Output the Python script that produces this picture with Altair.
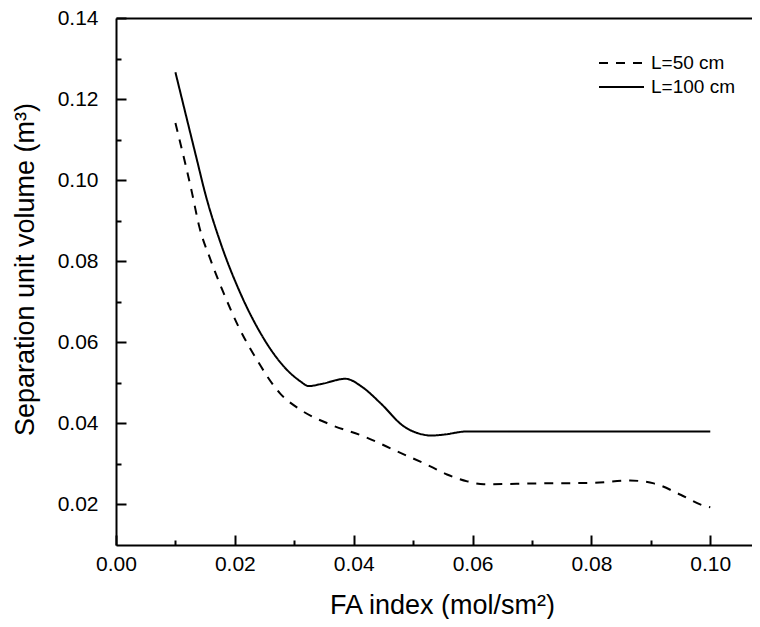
import altair as alt
import pandas as pd

# ---- data ----
series_labels = ["L=50 cm", "L=100 cm"]

x_50 = [0.010, 0.0128, 0.0140, 0.0159, 0.0181, 0.0206, 0.0237, 0.0276, 0.0310,
        0.0361, 0.0417, 0.0473, 0.0529, 0.0557, 0.0591, 0.0619, 0.0714, 0.0798,
        0.0865, 0.0905, 0.0950, 0.0989, 0.100]
y_50 = [0.1141, 0.0968, 0.0886, 0.0804, 0.0722, 0.0639, 0.0557, 0.0474, 0.0434,
        0.0397, 0.0368, 0.0331, 0.0294, 0.0274, 0.0257, 0.0250, 0.0252, 0.0253,
        0.0259, 0.0252, 0.0224, 0.0197, 0.0193]

x_100 = [0.010, 0.0136, 0.0150, 0.0176, 0.0209, 0.0243, 0.0282, 0.0310, 0.0324,
         0.0345, 0.0386, 0.0415, 0.0445, 0.0484, 0.0518, 0.0530, 0.0550, 0.0590,
         0.0650, 0.0700, 0.0800, 0.0900, 0.100]
y_100 = [0.1266, 0.1051, 0.0968, 0.0845, 0.0722, 0.0623, 0.0541, 0.0504, 0.0492,
         0.0497, 0.0510, 0.0489, 0.0450, 0.0393, 0.0372, 0.0370, 0.0372, 0.0380,
         0.0380, 0.0380, 0.0380, 0.0380, 0.0380]

x_major = [0.00, 0.02, 0.04, 0.06, 0.08, 0.10]
x_minor = [0.01, 0.03, 0.05, 0.07, 0.09]
y_major = [0.02, 0.04, 0.06, 0.08, 0.10, 0.12, 0.14]
y_minor = [0.03, 0.05, 0.07, 0.09, 0.11, 0.13]

df = pd.concat([
    pd.DataFrame({"x": x_50, "y": y_50, "series": series_labels[0]}),
    pd.DataFrame({"x": x_100, "y": y_100, "series": series_labels[1]}),
], ignore_index=True)

FONT = "Liberation Sans"
W, H = 636, 527
xscale = alt.Scale(domain=[0, 0.10702], nice=False, zero=False)
yscale = alt.Scale(domain=[0.01, 0.14], nice=False, zero=False)

base = alt.Chart(df)

lines = base.mark_line(strokeWidth=2, color="black", interpolate="monotone").encode(
    x=alt.X("x:Q", scale=xscale,
            axis=alt.Axis(orient="bottom", values=x_major, format=".2f", ticks=False,
                          domainWidth=2, domainColor="black",
                          labelPadding=8.5, labelFontSize=21, labelFont=FONT,
                          labelColor="black", labelFlush=False, labelOverlap=False,
                          title="FA index (mol/sm²)", titleFont=FONT, titleFontSize=27,
                          titleFontWeight="normal", titleColor="black",
                          titleX=326, titleY=68, titleBaseline="alphabetic",
                          titleAlign="center", grid=False)),
    y=alt.Y("y:Q", scale=yscale,
            axis=alt.Axis(orient="left", values=y_major, format=".2f", ticks=False,
                          domainWidth=2, domainColor="black",
                          labelPadding=18, labelFontSize=21, labelFont=FONT,
                          labelColor="black", labelFlush=False, labelOverlap=False,
                          title="Separation unit volume (m³)", titleFont=FONT,
                          titleFontSize=27, titleFontWeight="normal", titleColor="black",
                          titleX=-82.5, titleY=251, titleAngle=-90,
                          titleBaseline="alphabetic", titleAlign="center", grid=False)),
    strokeDash=alt.StrokeDash(
        "series:N",
        scale=alt.Scale(domain=series_labels, range=[[9, 8], [1, 0]]),
        legend=alt.Legend(title=None, orient="none", legendX=482, legendY=35,
                          symbolType="stroke", symbolSize=2025, symbolStrokeWidth=2,
                          symbolStrokeColor="black", labelFont=FONT, labelFontSize=19,
                          labelColor="black", labelOffset=6, clipHeight=20,
                          rowPadding=4, padding=0, offset=0)),
)


def tick_layer(xvals, yvals, size):
    return base.mark_line(opacity=0).encode(
        x=alt.X("x:Q", scale=xscale,
                axis=alt.Axis(orient="top", offset=-H, values=xvals, labels=False,
                              domain=False, tickSize=size, tickWidth=2,
                              tickColor="black", title=None, grid=False)),
        y=alt.Y("y:Q", scale=yscale,
                axis=alt.Axis(orient="right", offset=-W, values=yvals, labels=False,
                              domain=False, tickSize=size, tickWidth=2,
                              tickColor="black", title=None, grid=False)),
    )


major = tick_layer(x_major, y_major, 10)
minor = tick_layer(x_minor, y_minor, 5)

border = base.mark_line(opacity=0).encode(
    x=alt.X("x:Q", scale=xscale,
            axis=alt.Axis(orient="top", ticks=False, labels=False, domain=True,
                          domainWidth=2, domainColor="black", title=None, grid=False)),
    y=alt.Y("y:Q", scale=yscale, axis=None),
)

chart = alt.layer(lines, major, minor, border).resolve_axis(
    x="independent", y="independent"
).properties(
    width=W, height=H, autosize="none",
    padding={"left": 108, "top": 10, "right": 0, "bottom": 74},
).configure_view(stroke=None)

chart.save("out.html", embed_options={"renderer": "svg", "actions": False})
